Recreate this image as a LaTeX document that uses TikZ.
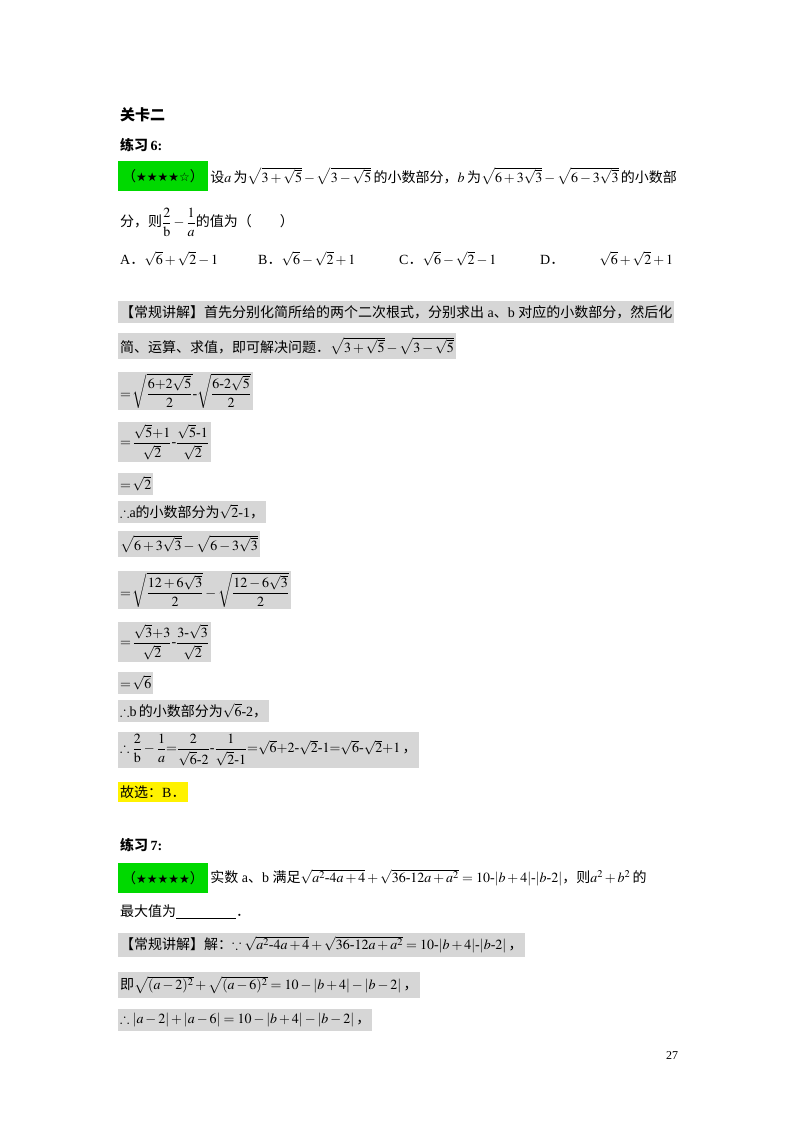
\documentclass[tikz,border=0pt]{standalone}
\usepackage{amsmath,amssymb}
\usepackage{mathptmx}
\usepackage{fontspec}
\setmainfont{Liberation Serif}
\newfontfamily\cjk{Noto Sans CJK SC}
\newfontfamily\symf{DejaVu Sans}
\newcommand{\zhw}[1]{{\cjk #1}}
\tikzset{
  ln/.style={anchor=west,inner xsep=2pt,inner ysep=4pt,font=\fontsize{14}{17}\selectfont},
  gb/.style={ln,fill=black!16},
}
\begin{document}
\begin{tikzpicture}[x=1pt,y=-1pt]
\useasboundingbox[fill=white] (0,0) rectangle (800,1132);
\node[ln,font=\fontsize{15}{17}\selectfont\bfseries] (t0) at (118,115) {\zhw{\bfseries 关卡二}};
\node[ln] (t1) at (118,145) {\zhw{\bfseries 练习}\,\textbf{6:}};
\node[ln,fill=green!85!black,minimum height=30pt,inner xsep=4pt] (g1) at (118,176) {\zhw{（}{\symf\fontsize{12}{14}\selectfont ★★★★☆}\zhw{）}};
\node[ln,anchor=west] (l1) at (g1.east) {\zhw{设}$a$\,\zhw{为}$\sqrt{3+\sqrt5}-\sqrt{3-\sqrt5}$\,\zhw{的小数部分，}$b$\,\zhw{为}$\sqrt{6+3\sqrt3}-\sqrt{6-3\sqrt3}$\,\zhw{的小数部}};
\node[ln] (l2) at (118,222) {\zhw{分，则}$\dfrac{2}{\mathrm{b}}-\dfrac{1}{a}$\zhw{的值为（\qquad ）}};
\node[ln] (oA) at (118,259) {A\zhw{．}$\sqrt6+\sqrt2-1$};
\node[ln] (oB) at (256,259) {B\zhw{．}$\sqrt6-\sqrt2+1$};
\node[ln] (oC) at (397,259) {C\zhw{．}$\sqrt6-\sqrt2-1$};
\node[ln] (oD) at (538,259) {D\zhw{．}\qquad\enspace$\sqrt6+\sqrt2+1$};
\node[gb] (s1) at (118,312) {\zhw{【常规讲解】首先分别化简所给的两个二次根式，分别求出} a\zhw{、}b \zhw{对应的小数部分，然后化}};
\node[gb] (s2) at (118,346) {\zhw{简、运算、求值，即可解决问题．}$\sqrt{3+\sqrt5}-\sqrt{3-\sqrt5}$};
\node[gb,inner ysep=2pt] (s3) at (118,391) {$=\!\sqrt{\dfrac{6{+}2\sqrt5}{2}}\text{-}\sqrt{\dfrac{6\text{-}2\sqrt5}{2}}$};
\node[gb,inner ysep=2pt] (s4) at (118,442) {$=\!\dfrac{\sqrt5{+}1}{\sqrt2}\text{-}\dfrac{\sqrt5\text{-}1}{\sqrt2}$};
\node[gb] (s5) at (118,484) {$=\!\sqrt2$};
\node[gb] (s6) at (118,512) {$\therefore$a\zhw{的小数部分为}$\sqrt2$-1\zhw{，}};
\node[gb] (s7) at (118,544) {$\sqrt{6+3\sqrt3}-\sqrt{6-3\sqrt3}$};
\node[gb,inner ysep=2pt] (s8) at (118,590) {$=\!\sqrt{\dfrac{12+6\sqrt3}{2}}-\sqrt{\dfrac{12-6\sqrt3}{2}}$};
\node[gb,inner ysep=2pt] (s9) at (118,642) {$=\!\dfrac{\sqrt3{+}3}{\sqrt2}\text{-}\dfrac{3\text{-}\sqrt3}{\sqrt2}$};
\node[gb] (s10) at (118,683) {$=\!\sqrt6$};
\node[gb] (s11) at (118,711) {$\therefore$b\,\zhw{的小数部分为}$\sqrt6$-2\zhw{，}};
\node[gb,inner ysep=2pt] (s12) at (118,750) {$\therefore\dfrac{2}{\mathrm{b}}-\dfrac{1}{a}{=}\dfrac{2}{\sqrt6\text{-}2}\text{-}\dfrac{1}{\sqrt2\text{-}1}{=}\sqrt6{+}2\text{-}\sqrt2\text{-}1{=}\sqrt6\text{-}\sqrt2{+}1$\,\zhw{，}};
\node[ln,fill=yellow] (s13) at (118,792) {\zhw{故选：}B\zhw{．}};
\node[ln] (t2) at (118,845) {\zhw{\bfseries 练习}\,\textbf{7:}};
\node[ln,fill=green!85!black,minimum height=30pt,inner xsep=4pt] (g2) at (118,878) {\zhw{（}{\symf\fontsize{12}{14}\selectfont ★★★★★}\zhw{）}};
\node[ln,anchor=west] (m1) at (g2.east) {\zhw{实数} a\zhw{、}b \zhw{满足}$\sqrt{a^2\text{-}4a+4}+\sqrt{36\text{-}12a+a^2}=10\text{-}|b+4|\text{-}|b\text{-}2|$\zhw{，则}$a^2+b^2$\,\zhw{的}};
\node[ln] (m2) at (118,912) {\zhw{最大值为}\rule[-2pt]{60pt}{0.5pt}\zhw{．}};
\node[gb] (m3) at (118,945) {\zhw{【常规讲解】解：}$\because\sqrt{a^2\text{-}4a+4}+\sqrt{36\text{-}12a+a^2}=10\text{-}|b+4|\text{-}|b\text{-}2|$\,\zhw{，}};
\node[gb] (m4) at (118,985) {\zhw{即}$\sqrt{(a-2)^2}+\sqrt{(a-6)^2}=10-|b+4|-|b-2|$\,\zhw{，}};
\node[gb] (m5) at (118,1020) {$\therefore|a-2|+|a-6|=10-|b+4|-|b-2|$\,\zhw{，}};
\node[ln,font=\fontsize{12}{14}\selectfont] (pg) at (664,1056) {27};
\end{tikzpicture}
\end{document}
